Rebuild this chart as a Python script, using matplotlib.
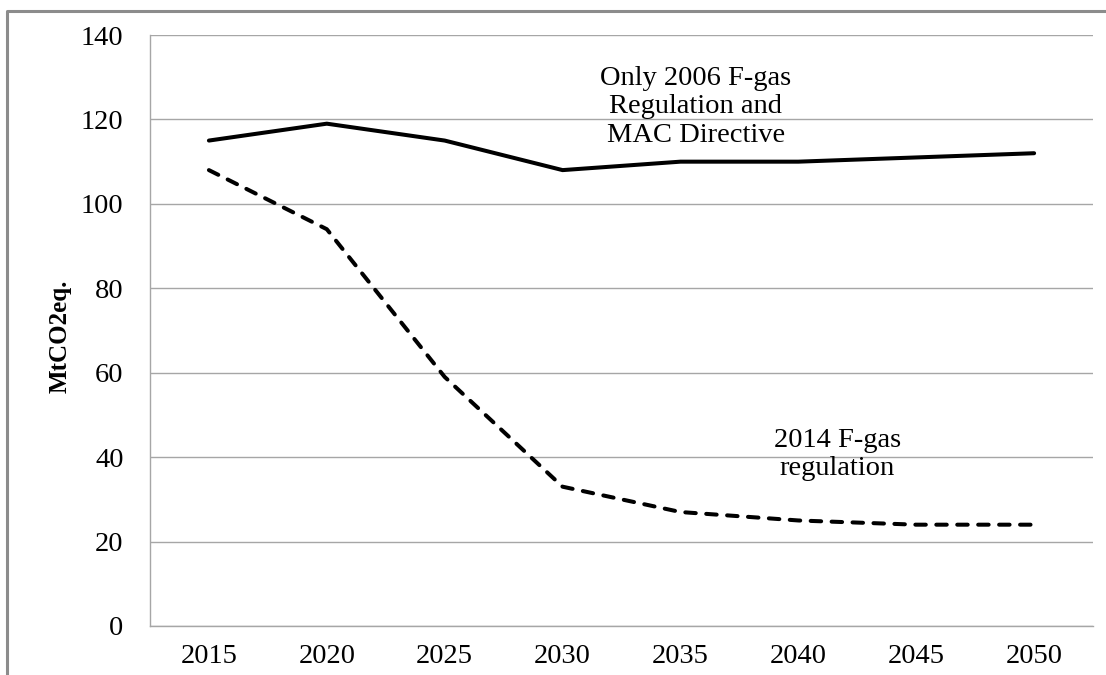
'''
    F-gas emissions scenarios, MtCO2eq., 2015-2050
'''

import matplotlib
matplotlib.use('Agg')
import matplotlib.pyplot as plt
from matplotlib.lines import Line2D

# --
# Data
years = ['2015', '2020', '2025', '2030', '2035', '2040', '2045', '2050']
only_2006 = [115, 119, 115, 108, 110, 110, 111, 112]
fgas_2014 = [108, 94, 59, 33, 27, 25, 24, 24]
yticks = [0, 20, 40, 60, 80, 100, 120, 140]

plt.rcParams['font.family'] = ['Liberation Serif', 'DejaVu Serif']

# --
# Figure and axes placed like the original
fig = plt.figure(figsize=(11.06, 6.75), dpi=100)
ax = fig.add_axes([0.1356, 0.0726, 0.8527, 0.8755])

x = range(len(years))
ax.plot(x, only_2006, color='black', lw=2.9, solid_capstyle='round', zorder=3)
ax.plot(x, fgas_2014, color='black', lw=2.9, ls=(0, (2.6, 2.6)),
        dash_capstyle='round', zorder=3)

ax.set_xlim(-0.5, len(years) - 0.5)
ax.set_ylim(0, 140)
ax.set_xticks(list(x))
ax.set_xticklabels(years)
ax.set_yticks(yticks)
ax.tick_params(axis='both', length=0, labelsize=20.5, pad=13)
ax.tick_params(axis='y', pad=19)

ax.grid(axis='y', color='#a6a6a6', lw=1)
ax.set_axisbelow(True)
for side in ['top', 'right']:
    ax.spines[side].set_visible(False)
for side in ['left', 'bottom']:
    ax.spines[side].set_color('#a6a6a6')
    ax.spines[side].set_linewidth(1)

ax.set_ylabel('MtCO2eq.', fontsize=18, fontweight='bold')
ax.yaxis.set_label_coords(-0.083, 0.49)

# --
# Series labels
ax.text(4.13, 123.0, 'Only 2006 F-gas\nRegulation and\nMAC Directive',
        ha='center', va='center', multialignment='center', fontsize=20.5,
        linespacing=1.17)
ax.text(5.33, 40.6, '2014 F-gas\nregulation',
        ha='center', va='center', multialignment='center', fontsize=20.5,
        linespacing=1.17)

# --
# Outer gray frame (cropped on right and bottom)
fig.add_artist(Line2D([7 / 1106, 7 / 1106, 1.0], [0.0, 1 - 11 / 675, 1 - 11 / 675],
                      transform=fig.transFigure, color='#8c8c8c', lw=2.2))

plt.savefig('out.png', dpi=100)
plt.close('all')
